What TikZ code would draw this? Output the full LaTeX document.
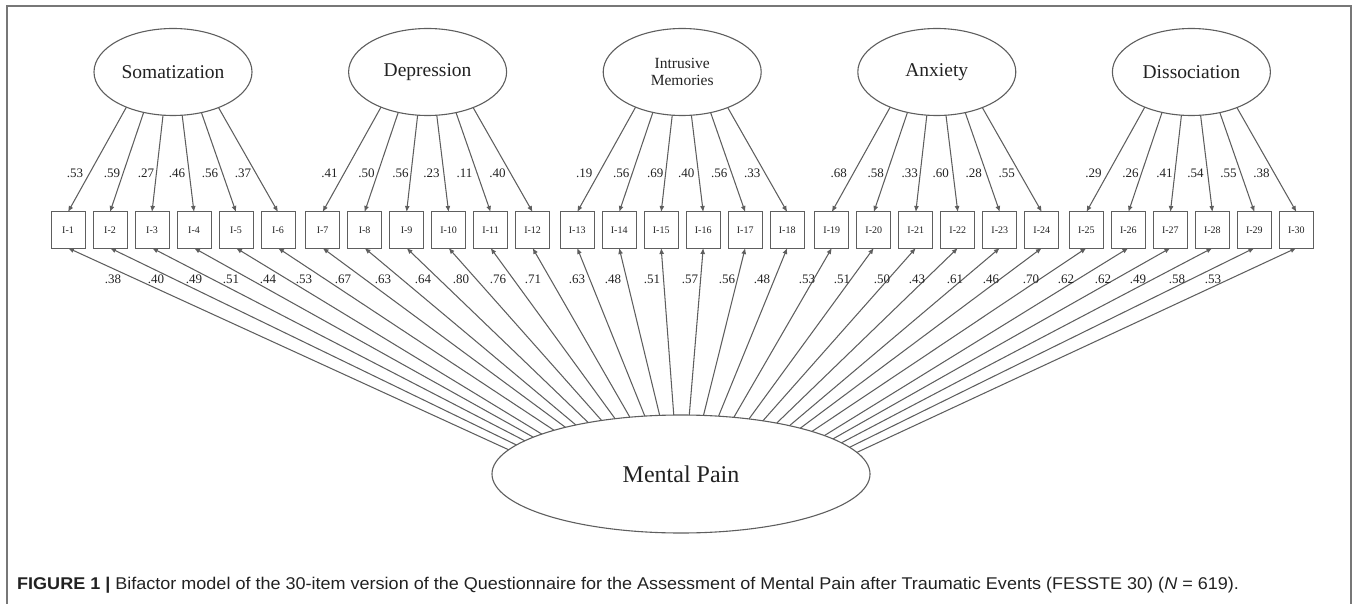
\documentclass[tikz,border=0pt]{standalone}
\usepackage{fontspec}
\setmainfont{Liberation Serif}
\newfontfamily\capfont{Liberation Sans}
\usetikzlibrary{arrows.meta,shapes.geometric}
\definecolor{ln}{HTML}{5E5E5E}
\definecolor{tx}{HTML}{222222}
\definecolor{fr}{HTML}{777777}
\begin{document}
\begin{tikzpicture}[x=1pt,y=-1pt,
  lat/.style={ellipse, draw=ln, line width=1.1pt, inner sep=0pt, outer sep=0pt,
    minimum width=158pt, minimum height=87pt, text=tx,
    font=\fontsize{19.5}{22}\selectfont},
  item/.style={rectangle, draw=ln, line width=1pt, minimum width=34pt,
    minimum height=36pt, inner sep=0pt, outer sep=0pt, text=tx,
    font=\fontsize{10}{11}\selectfont},
  arr/.style={draw=ln, line width=1.05pt, -{Latex[length=6pt,width=5pt]}},
  ld/.style={font=\fontsize{13}{14}\selectfont, text=tx, inner sep=0pt},
  framestyle/.style={draw=fr, line width=1.6pt}
]
\useasboundingbox (0,0) rectangle (1357,604);
\draw[framestyle] (7,604) -- (7,6) -- (1351,6) -- (1351,604);

% latent factors
\node[lat] (G0) at (173,72) {Somatization};
\node[lat] (G1) at (427.6,72) {Depression};
\node[lat, align=center, font=\fontsize{15.5}{17.5}\selectfont] (G2) at (682.2,72) {Intrusive\\Memories};
\node[lat] (G3) at (936.8,72) {Anxiety};
\node[lat] (G4) at (1191.4,72) {Dissociation};
\node[lat, minimum width=378pt, minimum height=118pt, font=\fontsize{24}{26}\selectfont] (MP) at (681,474) {Mental Pain};

% items
\foreach \k in {1,...,30}{
  \pgfmathtruncatemacro{\g}{int((\k-1)/6)}
  \pgfmathtruncatemacro{\j}{\k-1-6*\g}
  \pgfmathsetmacro{\xx}{173+254.6*\g+(\j-2.5)*42}
  \node[item] (I\k) at (\xx,230) {I-\k};
}

% specific loadings
\foreach \k/\v in {1/.53,2/.59,3/.27,4/.46,5/.56,6/.37,
                   7/.41,8/.50,9/.56,10/.23,11/.11,12/.40,
                   13/.19,14/.56,15/.69,16/.40,17/.56,18/.33,
                   19/.68,20/.58,21/.33,22/.60,23/.28,24/.55,
                   25/.29,26/.26,27/.41,28/.54,29/.55,30/.38}{
  \pgfmathtruncatemacro{\g}{int((\k-1)/6)}
  \pgfmathtruncatemacro{\j}{\k-1-6*\g}
  \pgfmathsetmacro{\th}{270+(\j-2.5)*14.2}
  \pgfmathsetmacro{\ph}{atan2(43.5*sin(\th),79*cos(\th))+360}
  \pgfmathsetmacro{\off}{{-98,-61,-27,4,37,70}[\j]}
  \pgfmathsetmacro{\lx}{173+254.6*\g+\off}
  \draw[arr] (G\g.\ph) -- (I\k.north);
  \node[ld] (s\k) at (\lx,173) {\v};
}

% general factor loadings
\foreach \k in {1,...,30}{
  \pgfmathsetmacro{\th}{90+(15.5-\k)*4.55}
  \pgfmathsetmacro{\ph}{atan2(59*sin(\th),189*cos(\th))}
  \draw[arr] (MP.\ph) -- (I\k.south);
}
\foreach \k/\x/\v in {1/113/.38,2/156/.40,3/194/.49,4/231/.51,5/268/.44,6/304/.53,
  7/343/.67,8/383/.63,9/423/.64,10/461/.80,11/498/.76,12/533/.71,
  13/577/.63,14/613/.48,15/652/.51,16/690/.57,17/727/.56,18/762/.48,
  19/807/.53,20/842/.51,21/882/.50,22/917/.43,23/955/.61,24/991/.46,
  25/1031/.70,26/1066/.62,27/1103/.62,28/1138/.49,29/1177/.58,30/1213/.53}{
  \node[ld] (m\k) at (\x,279) {\v};
}

% caption
\node[anchor=base west, inner sep=0pt, text=tx, font=\capfont\fontsize{17}{19}\selectfont] (cap) at (17,589)
  {\scalebox{1.06}[1]{\textbf{FIGURE 1 |} Bifactor model of the 30-item version of the Questionnaire for the Assessment of Mental Pain after Traumatic Events (FESSTE 30) (\textit{N} = 619).}};
\end{tikzpicture}
\end{document}
